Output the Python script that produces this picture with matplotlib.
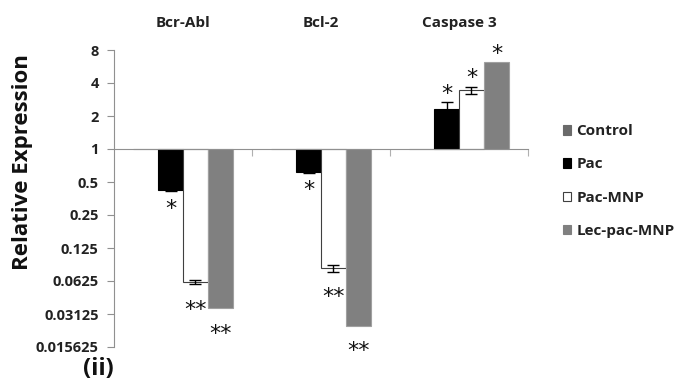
import numpy as np
import matplotlib
matplotlib.use('Agg')
import matplotlib.pyplot as plt
from matplotlib.patches import Patch
from matplotlib.transforms import blended_transform_factory

plt.rcParams['font.family'] = ['Open Sans', 'DejaVu Sans']

genes = ['Bcr-Abl', 'Bcl-2', 'Caspase 3']
groups = ['Control', 'Pac', 'Pac-MNP', 'Lec-pac-MNP']

control = [1.0, 1.0, 1.0]
pac = [0.42, 0.62, 2.3]
pac_mnp = [0.0615, 0.082, 3.45]
lec_pac_mnp = [0.0352, 0.0245, 6.2]

# error bar half-widths in expression units
pac_err = [0.01, 0.015, 0.36]
pac_mnp_err = [0.003, 0.006, 0.25]

# significance marks per bar
pac_sig = ['*', '*', '*']
pac_mnp_sig = ['**', '**', '*']
lec_sig = ['**', '**', '*']

series = [control, pac, pac_mnp, lec_pac_mnp]
errors = [None, pac_err, pac_mnp_err, None]
marks = [None, pac_sig, pac_mnp_sig, lec_sig]
faces = ['#707070', '#000000', '#ffffff', '#808080']
edges = ['#707070', '#000000', '#404040', '#a0a0a0']

fig = plt.figure(figsize=(6.82, 3.86), dpi=100)
ax = fig.add_axes([114 / 682, 1 - 347 / 386, 414 / 682, 297 / 386])

ax.set_yscale('log', base=2)
ax.set_ylim(1 / 64, 8)
ax.set_xlim(-0.5, 2.5)

x = np.arange(len(genes))
w = 0.181
for k, vals in enumerate(series):
    pos = x + (k - 1.5) * w
    vals = np.array(vals)
    ax.bar(pos, vals - 1, bottom=1, width=w, color=faces[k],
           edgecolor=edges[k], linewidth=0.8, zorder=2)
    if errors[k] is not None:
        ax.errorbar(pos, vals, yerr=errors[k], fmt='none', ecolor='black',
                    elinewidth=1, capsize=4, capthick=1, zorder=3)
    if marks[k] is not None:
        for p, v, m, e in zip(pos, vals, marks[k], errors[k] or [0] * 3):
            if v > 1:
                ax.text(p, (v + e) * 0.97, m, ha='center', va='bottom',
                        fontsize=16, family='DejaVu Sans', color='#111111')
            else:
                shift = 0.86 if len(m) == 1 else 0.72
                ax.text(p, (v - e) * shift, m, ha='center', va='top',
                        fontsize=16, family='DejaVu Sans', color='#111111')

ticks = [2.0 ** i for i in range(-6, 4)]
ax.set_yticks(ticks)
ax.set_yticklabels(['0.015625', '0.03125', '0.0625', '0.125', '0.25',
                    '0.5', '1', '2', '4', '8'])
ax.yaxis.set_minor_locator(matplotlib.ticker.NullLocator())
ax.tick_params(axis='y', length=5, color='#909090', labelsize=10.5,
               labelcolor='#222222', pad=6)
for lab in ax.get_yticklabels():
    lab.set_fontweight('bold')

# category axis sits at a relative expression of 1
ax.spines['bottom'].set_position(('data', 1))
ax.spines['bottom'].set_color('#909090')
ax.spines['left'].set_color('#909090')
ax.spines['top'].set_visible(False)
ax.spines['right'].set_visible(False)
ax.set_xticks([0.5, 1.5, 2.5])
ax.set_xticklabels([])
ax.tick_params(axis='x', direction='out', length=5, color='#b0b0b0')

trans = blended_transform_factory(ax.transData, fig.transFigure)
for i, g in enumerate(genes):
    ax.text(i, 1 - 23 / 386, g, transform=trans, ha='center', va='center',
            fontsize=11, fontweight='bold', color='#222222')

fig.text(23 / 682, 1 - 162 / 386, 'Relative Expression', rotation=90,
         ha='center', va='center', fontsize=16, fontweight='bold',
         color='#111111')
fig.text(98 / 682, 1 - 369 / 386, '(ii)', ha='center', va='center',
         fontsize=17, fontweight='bold', color='#111111')

handles = [Patch(facecolor=faces[k], edgecolor='#404040' if k == 2 else faces[k],
                 linewidth=0.8) for k in range(4)]
handles[0].set_facecolor('#6a6a6a')
handles[0].set_edgecolor('#6a6a6a')
leg = fig.legend(handles, groups, loc='center left',
                 bbox_to_anchor=(549 / 682, 1 - 181 / 386), frameon=False,
                 handlelength=0.55, handleheight=0.55, handletextpad=0.35,
                 labelspacing=1.25, prop={'weight': 'bold', 'size': 11})
for t in leg.get_texts():
    t.set_color('#222222')

fig.savefig('out.png', dpi=100)
